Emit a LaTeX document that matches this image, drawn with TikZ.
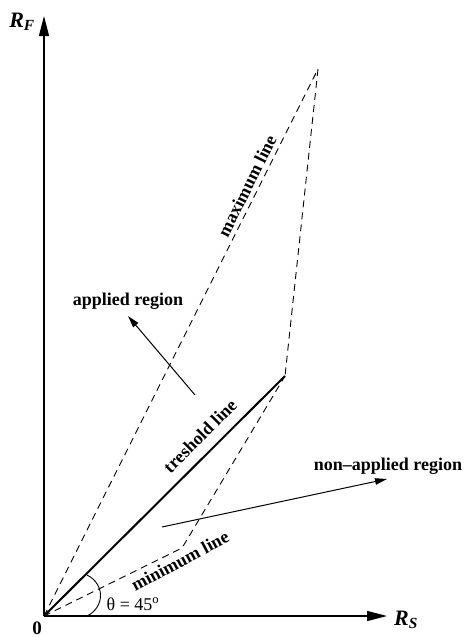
\documentclass[tikz,border=0pt]{standalone}
\usepackage{fontspec}
\setmainfont{Liberation Serif}
\usetikzlibrary{arrows.meta}
\begin{document}
\begin{tikzpicture}[x=1pt,y=-1pt,
  axis/.style={line width=1.3pt,-{Triangle[length=20pt,width=10pt]}},
  dsh/.style={line width=0.9pt,dash pattern=on 7pt off 5pt},
  thr/.style={line width=2pt},
  rarrow/.style={line width=1pt,-{Triangle[length=12pt,width=6.5pt]}},
  lbl/.style={inner sep=0pt,font=\fontsize{18}{20}\selectfont\bfseries},
  axlbl/.style={inner sep=0pt,font=\fontsize{22}{24}\selectfont\bfseries},
  plain/.style={inner sep=0pt,font=\fontsize{18}{20}\selectfont}]
\useasboundingbox (0,0) rectangle (466,637);
\coordinate (O) at (44,616);
\coordinate (Ftip) at (44,16);
\coordinate (Stip) at (387,616);
\coordinate (T) at (285,376);
\coordinate (M) at (318,69);
\coordinate (N) at (182,548);
\coordinate (A1) at (195,395);
\coordinate (A2) at (128,316);
\coordinate (B1) at (162,527);
\coordinate (B2) at (387,479);
\coordinate (C1) at (87,575);
\coordinate (C2) at (87,616);
% axes
\draw[axis] (O) -- (Ftip);
\draw[axis] (O) -- (Stip);
% threshold
\draw[thr] (O) -- (T);
% dashed lines
\draw[dsh] (O) -- (M) -- (T);
\draw[dsh] (O) -- (N) -- (T);
% region arrows
\draw[rarrow] (A1) -- (A2);
\draw[rarrow] (B1) -- (B2);
% angle arc
\draw[line width=0.9pt] (C1) .. controls (105,584) and (105,607) .. (C2);
% labels
\node[axlbl] (lRF) at (22,22) {\textit{R}\textsubscript{\textit{F}}};
\node[axlbl] (lRS) at (406,620) {\textit{R}\textsubscript{\textit{S}}};
\node[lbl,font=\fontsize{19}{20}\selectfont\bfseries] (l0) at (37,628) {0};
\node[plain] (ltheta) at (133,604) {θ = 45\textsuperscript{o}};
\node[lbl] (lapp) at (128,301) {applied region};
\node[lbl] (lnon) at (388,466) {non–applied region};
\node[lbl,rotate=45] (lthr) at (200,436) {treshold line};
\node[lbl,rotate=63.4] (lmax) at (247,186) {maximum line};
\node[lbl,rotate=28] (lmin) at (180,561) {minimum line};
\end{tikzpicture}
\end{document}
